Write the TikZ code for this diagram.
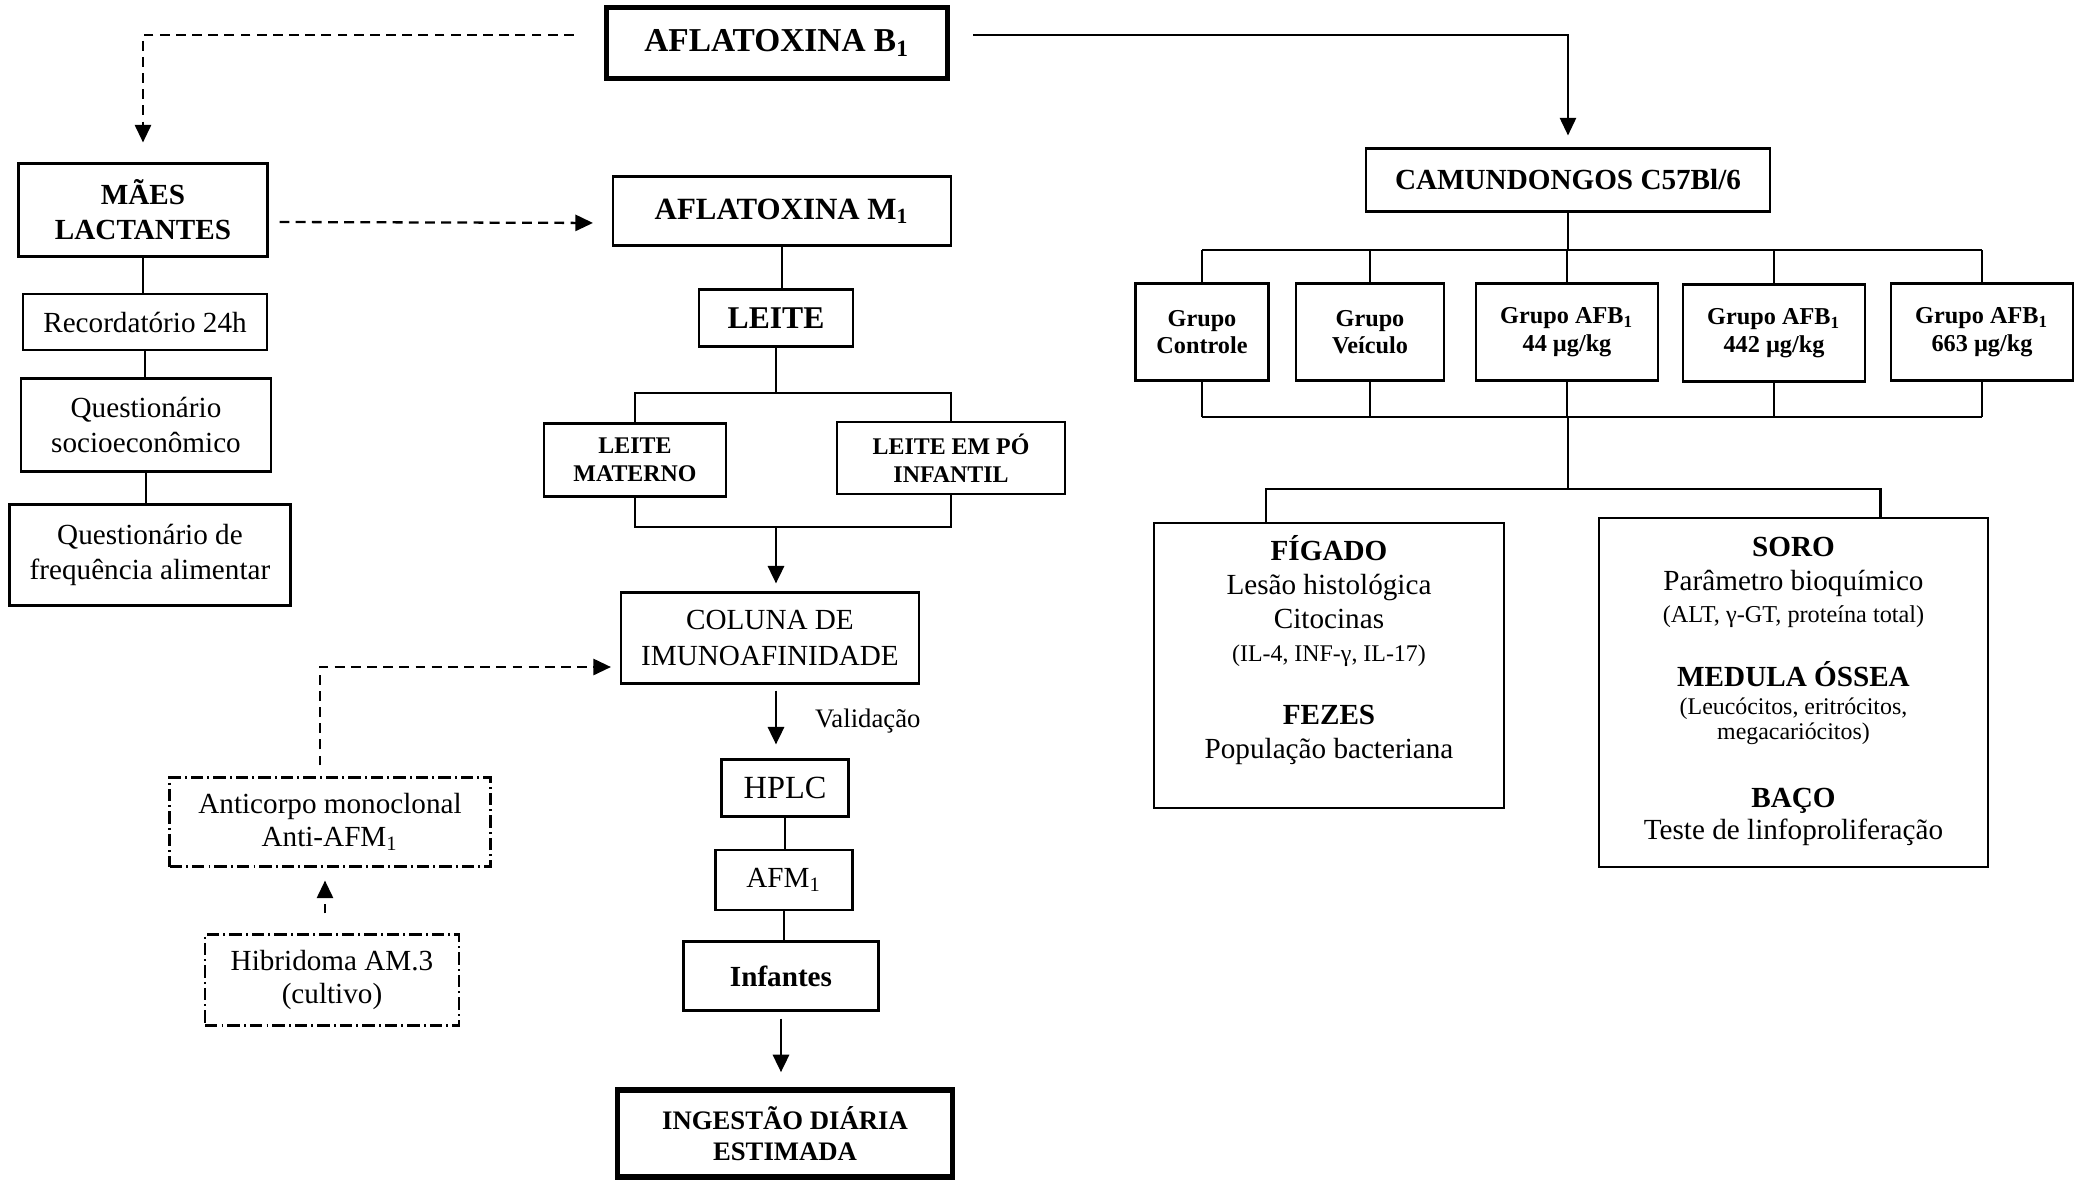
\documentclass[tikz,border=0pt]{standalone}
\usepackage{fontspec}
\setmainfont{Liberation Serif}
\usetikzlibrary{arrows.meta, positioning}
\newcommand{\mainfs}{\fontsize{8.3}{9.6}\selectfont}
\newcommand{\smallfs}{\fontsize{6.8}{8}\selectfont}

\begin{document}
        \begin{tikzpicture}[y=-1cm,
            box/.style={draw, line width=0.6pt, inner sep=1pt, align=center, font=\mainfs},
            bbox/.style={box, font=\bfseries\fontsize{8.3}{10}\selectfont},
            heavy/.style={box, line width=1.6pt, font=\bfseries\fontsize{9.5}{11}\selectfont},
            dotbox/.style={box, dash pattern=on 3.5pt off 1.2pt on 0.5pt off 1.2pt},
            grp/.style={box, minimum width=1.82cm, minimum height=0.97cm, font=\bfseries\fontsize{6.9}{7.8}\selectfont},
            link/.style={line width=0.6pt},
            arr/.style={line width=0.8pt, -{Triangle[length=5pt,width=4.6pt]}},
            dsh/.style={arr, line width=0.65pt, dash pattern=on 2.8pt off 1.8pt}]
            \useasboundingbox (0,0) rectangle (20.8,11.8);
            \node[heavy, minimum width=3.41cm, minimum height=0.71cm] (b1) at (7.77,0.43) {AFLATOXINA B\textsubscript{1}};
            \node[bbox, minimum width=2.49cm, minimum height=0.93cm] (mae) at (1.43,2.10) {MÃES\\LACTANTES};
            \node[bbox, minimum width=3.38cm, minimum height=0.69cm, font=\bfseries\fontsize{8.8}{10}\selectfont] (m1) at (7.82,2.11) {AFLATOXINA M\textsubscript{1}};
            \node[box, minimum width=2.44cm, minimum height=0.56cm] (rec) at (1.45,3.22) {Recordatório 24h};
            \node[box, minimum width=2.50cm, minimum height=0.93cm, font=\fontsize{8.3}{10.2}\selectfont] (soc) at (1.46,4.25) {Questionário\\socioeconômico};
            \node[box, minimum width=2.81cm, minimum height=1.01cm, font=\fontsize{8.3}{10}\selectfont] (freq) at (1.50,5.55) {Questionário de\\frequência alimentar};
            \node[bbox, minimum width=1.54cm, minimum height=0.57cm, font=\bfseries\fontsize{9}{10}\selectfont] (leite) at (7.76,3.18) {LEITE};
            \node[bbox, minimum width=1.82cm, minimum height=0.73cm, font=\bfseries\fontsize{6.8}{8}\selectfont] (mat) at (6.35,4.60) {LEITE\\MATERNO};
            \node[bbox, minimum width=2.28cm, minimum height=0.72cm, font=\bfseries\fontsize{6.8}{8}\selectfont] (po) at (9.51,4.58) {LEITE EM PÓ\\INFANTIL};
            \node[box, minimum width=2.98cm, minimum height=0.91cm, font=\fontsize{8.3}{10}\selectfont] (col) at (7.70,6.38) {COLUNA DE\\IMUNOAFINIDADE};
            \node[box, minimum width=1.27cm, minimum height=0.57cm, font=\fontsize{9.2}{10}\selectfont] (hplc) at (7.85,7.88) {HPLC};
            \node[box, minimum width=1.37cm, minimum height=0.60cm] (afm) at (7.84,8.80) {AFM\textsubscript{1}};
            \node[bbox, minimum width=1.95cm, minimum height=0.69cm] (inf) at (7.81,9.76) {Infantes};
            \node[heavy, minimum width=3.35cm, minimum height=0.87cm, font=\bfseries\fontsize{7.6}{8.8}\selectfont] (ing) at (7.85,11.335) {INGESTÃO DIÁRIA\\ESTIMADA};
            \node[dotbox, minimum width=3.21cm, minimum height=0.89cm, font=\fontsize{8.3}{9.4}\selectfont] (anti) at (3.30,8.22) {Anticorpo monoclonal\\Anti-AFM\textsubscript{1}};
            \node[dotbox, minimum width=2.54cm, minimum height=0.91cm, font=\fontsize{8.3}{9.4}\selectfont] (hib) at (3.32,9.80) {Hibridoma AM.3\\(cultivo)};
            \node[bbox, minimum width=4.04cm, minimum height=0.63cm] (cam) at (15.68,1.80) {CAMUNDONGOS C57Bl/6};
            \node[grp, minimum width=1.33cm] (g1) at (12.02,3.32) {Grupo\\Controle};
            \node[grp, minimum width=1.48cm] (g2) at (13.70,3.32) {Grupo\\Veículo};
            \node[grp] (g3) at (15.67,3.32) {Grupo AFB\textsubscript{1}\\44 µg/kg};
            \node[grp] (g4) at (17.74,3.33) {Grupo AFB\textsubscript{1}\\442 µg/kg};
            \node[grp] (g5) at (19.82,3.32) {Grupo AFB\textsubscript{1}\\663 µg/kg};
            \node[box, minimum width=3.50cm, minimum height=2.85cm] (fig) at (13.29,6.655) {};
            \node[align=center, inner sep=0pt, anchor=north, font=\mainfs] (figtxt) at ([yshift=-0.13cm]fig.north) {{\bfseries FÍGADO}\\Lesão histológica\\Citocinas\\{\smallfs (IL-4, INF-γ, IL-17)}\\[8.3pt]{\bfseries FEZES}\\População bacteriana};
            \node[box, minimum width=3.89cm, minimum height=3.49cm] (soro) at (17.935,6.925) {};
            \node[align=center, inner sep=0pt, anchor=north, font=\mainfs] (sorotxt) at ([yshift=-0.20cm]soro.north) {{\bfseries SORO}\\Parâmetro bioquímico\\[-0.6pt]{\fontsize{6.9}{8}\selectfont (ALT, γ-GT, proteína total)}\\[8.7pt]{\bfseries MEDULA ÓSSEA}\\[-1.7pt]{\smallfs (Leucócitos, eritrócitos,}\\[-2.5pt]{\smallfs megacariócitos)}\\[9.8pt]{\bfseries BAÇO}\\[-0.4pt]Teste de linfoproliferação};
            \draw[dsh, shorten >=0.2cm] ([xshift=-0.3cm,yshift=0.08cm]b1.west) -| (mae.north);
            \draw[arr, line width=0.6pt, shorten >=0.12cm] ([xshift=0.23cm,yshift=0.08cm]b1.east) -| (cam.north);
            \draw[dsh, shorten >=0.19cm] ([xshift=0.11cm,yshift=-0.12cm]mae.east) -- ([yshift=-0.12cm]m1.west);
            \draw[link] (mae.south) -- (mae.south |- rec.north);
            \draw[link] (rec.south) -- (rec.south |- soc.north);
            \draw[link] (soc.south) -- (soc.south |- freq.north);
            \draw[link] (m1.south) -- (m1.south |- leite.north);
            \draw[link] (leite.south) -- ++(0,0.455) coordinate (lt);
            \draw[link] (mat.north) |- (lt) -| (po.north);
            \path (lt |- mat.south) ++(0,0.29) coordinate (lb);
            \draw[link] (mat.south) |- (lb) -| (po.south);
            \draw[arr, shorten >=0.08cm] (lb) -- (lb |- col.north);
            \draw[arr, shorten <=0.06cm, shorten >=0.14cm] (lb |- col.south) -- (lb |- hplc.north) node[midway, right=0.26cm, font=\fontsize{7.6}{9}\selectfont] (vali) {Validação};
            \draw[link] (hplc.south) -- (hplc.south |- afm.north);
            \draw[link] (afm.south) -- (afm.south |- inf.north);
            \draw[arr, shorten <=0.07cm, shorten >=0.15cm] (inf.south) -- (inf.south |- ing.north);
            \draw[dsh, shorten <=0.11cm, shorten >=0.09cm] ([xshift=-0.1cm]anti.north) |- ([yshift=-0.29cm]col.west);
            \draw[dsh, shorten <=0.2cm, shorten >=0.13cm] ([xshift=-0.07cm]hib.north) -- ([xshift=-0.07cm]hib.north |- anti.south);
            \draw[link] (cam.south) -- ++(0,0.37) coordinate (gt);
            \draw[link] (g1.north |- gt) -- (g5.north |- gt);
            \foreach \g in {g1,g2,g3,g4,g5} \draw[link] (\g.north) -- (\g.north |- gt);
            \path (cam.south |- g3.south) ++(0,0.35) coordinate (gb);
            \draw[link] (g1.south |- gb) -- (g5.south |- gb);
            \foreach \g in {g1,g2,g3,g4,g5} \draw[link] (\g.south) -- (\g.south |- gb);
            \draw[link] (gb) -- ++(0,0.72) coordinate (ot);
            \draw[link] ([xshift=-0.63cm]fig.north) |- (ot) -| ([xshift=0.87cm]soro.north);
        \end{tikzpicture}
\end{document}
